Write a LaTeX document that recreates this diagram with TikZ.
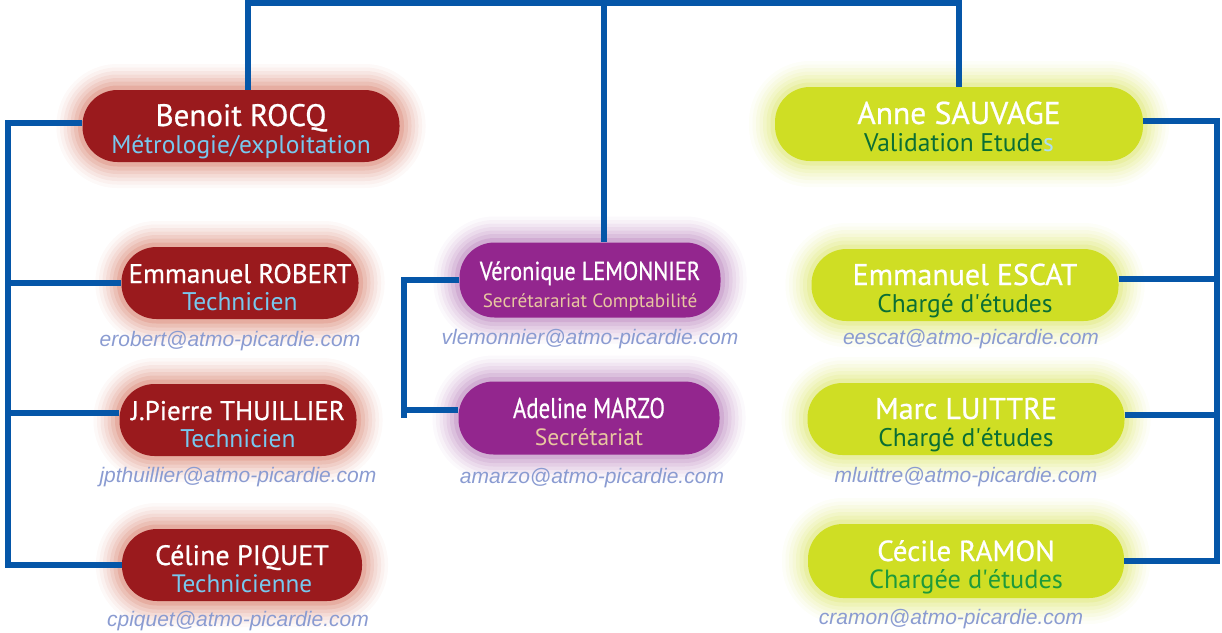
\documentclass[tikz,border=0pt]{standalone}
\usepackage{fontspec}
\usepackage{graphicx}
\setmainfont{PT Sans}
\newfontfamily\namefont[FakeBold=0.7]{PT Sans}
\newfontfamily\mailfont{Liberation Sans}
\usetikzlibrary{positioning}
\definecolor{linkblue}{HTML}{0556A8}
\definecolor{boxred}{HTML}{9A1A1D}
\definecolor{redglow}{HTML}{CC5A40}
\definecolor{boxpurple}{HTML}{93268E}
\definecolor{purpleglow}{HTML}{A25AA6}
\definecolor{boxlime}{HTML}{CFDE24}
\definecolor{limeglow}{HTML}{D3DF45}
\definecolor{roleblue}{HTML}{78C8EE}
\definecolor{rolebeige}{HTML}{E8C7A0}
\definecolor{rolegreen}{HTML}{0A6E34}
\definecolor{rolelight}{HTML}{1E9A3A}
\definecolor{mailblue}{HTML}{8A9BD1}
\newcommand{\pname}[2][30]{{\namefont\fontsize{#1}{#1}\selectfont #2}}
\newcommand{\prole}[3][25.5]{{\fontsize{#1}{#1}\selectfont\color{#2}#3}}
\tikzset{link/.style={draw=linkblue, line width=5.5pt}}
\tikzset{glow/.style={preaction={draw=#1, draw opacity=0.04, line width=52pt},
                      preaction={draw=#1, draw opacity=0.05, line width=45pt},
                      preaction={draw=#1, draw opacity=0.07, line width=38pt},
                      preaction={draw=#1, draw opacity=0.08, line width=31pt},
                      preaction={draw=#1, draw opacity=0.1,  line width=24pt},
                      preaction={draw=#1, draw opacity=0.13, line width=17pt},
                      preaction={draw=#1, draw opacity=0.18, line width=9pt}}}
\tikzset{pill/.style={rounded corners=35pt, minimum height=72pt, text=white, align=center, inner sep=0pt,
                      text height=58pt, text depth=4pt, font=\fontsize{26}{27}\selectfont}}
\tikzset{redbox/.style={pill, fill=boxred, glow=redglow}}
\tikzset{purplebox/.style={pill, fill=boxpurple, glow=purpleglow}}
\tikzset{limebox/.style={pill, fill=boxlime, glow=limeglow}}
\tikzset{mail/.style={font=\mailfont\itshape\fontsize{21}{21}\selectfont, text=mailblue, inner sep=0pt}}

\begin{document}
\begin{tikzpicture}[x=1pt, y=-1pt]
    \useasboundingbox (0,0) rectangle (1222,632);

    \node[redbox, minimum width=317pt] (rocq)      at (241, 126) {\pname[31]{Benoit ROCQ}\\\prole{roleblue}{Métrologie/exploitation}};
    \node[redbox, minimum width=237pt] (robert)    at (240, 283) {\pname[27]{Emmanuel ROBERT}\\\prole{roleblue}{Technicien}};
    \node[redbox, minimum width=237pt] (thuillier) at (238, 420) {\pname[27]{J.Pierre THUILLIER}\\\prole{roleblue}{Technicien}};
    \node[redbox, minimum width=240pt] (piquet)    at (242, 565) {\pname[28]{Céline PIQUET}\\\prole[25.2]{roleblue}{Technicienne}};

    \node[purplebox, minimum width=261pt, minimum height=75pt] (lemonnier) at (590, 280)
        {\scalebox{0.86}[1]{\pname[26]{Véronique LEMONNIER}}\\\prole[19.2]{rolebeige}{Secrétarariat Comptabilité}};
    \node[purplebox, minimum width=261pt, minimum height=73pt] (marzo) at (589, 418)
        {\scalebox{0.8}[1]{\pname[28.5]{Adeline MARZO}}\\\prole[23.5]{rolebeige}{Secrétariat}};

    \node[limebox, minimum width=368pt, minimum height=74pt] (sauvage) at (959, 124)
        {\pname[31.5]{Anne SAUVAGE}\\\prole{rolegreen}{Validation Etude\textcolor{roleblue!60}{s}}};
    \node[limebox, minimum width=307pt] (escat)   at (965, 285) {\pname{Emmanuel ESCAT}\\\prole{rolegreen}{Chargé d\textquotesingle études}};
    \node[limebox, minimum width=317pt] (luittre) at (966, 419) {\pname{Marc LUITTRE}\\\prole{rolegreen}{Chargé d\textquotesingle études}};
    \node[limebox, minimum width=316pt, minimum height=74pt] (ramon) at (966, 561)
        {\pname[29]{Cécile RAMON}\\\prole[26.3]{rolelight}{Chargée d\textquotesingle études}};

    \node[mail, below = 12pt of robert, xshift=-10pt]   {erobert@atmo-picardie.com};
    \node[mail, below = 11pt of thuillier]              {jpthuillier@atmo-picardie.com};
    \node[mail, below = 10pt of piquet, xshift=-4pt]    {cpiquet@atmo-picardie.com};
    \node[mail, below = 11pt of lemonnier]              {vlemonnier@atmo-picardie.com};
    \node[mail, below = 13pt of marzo, xshift=3pt]      {amarzo@atmo-picardie.com};
    \node[mail, below = 8pt of escat, xshift=6pt]       {eescat@atmo-picardie.com};
    \node[mail, below = 12pt of luittre]                {mluittre@atmo-picardie.com};
    \node[mail, below = 11pt of ramon, xshift=-15pt]    {cramon@atmo-picardie.com};

    % links
    \coordinate (top)  at (604, 3);
    \coordinate (lbus) at (8, 0);
    \coordinate (mbus) at (404, 0);
    \coordinate (rbus) at (1217, 0);

    \draw[link] ([xshift=7pt]rocq.north) |- (top) -| (sauvage.north);
    \draw[link] (top) -- (top |- lemonnier.north);

    \draw[link] ([yshift=3pt]rocq.west) -| (lbus |- piquet.west) -- (piquet.west);
    \draw[link] (lbus |- robert.west) -- (robert.west);
    \draw[link] (lbus |- thuillier.west) ++(0,-7) -- ([yshift=7pt]thuillier.west);

    \draw[link] (lemonnier.west) -| (mbus |- marzo.west) ++(0,-8) -- ([yshift=8pt]marzo.west);

    \draw[link] ([yshift=3pt]sauvage.east) -| (rbus |- ramon.east) -- (ramon.east);
    \draw[link] ([yshift=6pt]escat.east) -- ([yshift=6pt]rbus |- escat.east);
    \draw[link] ([yshift=4pt]luittre.east) -- ([yshift=4pt]rbus |- luittre.east);
\end{tikzpicture}
\end{document}
